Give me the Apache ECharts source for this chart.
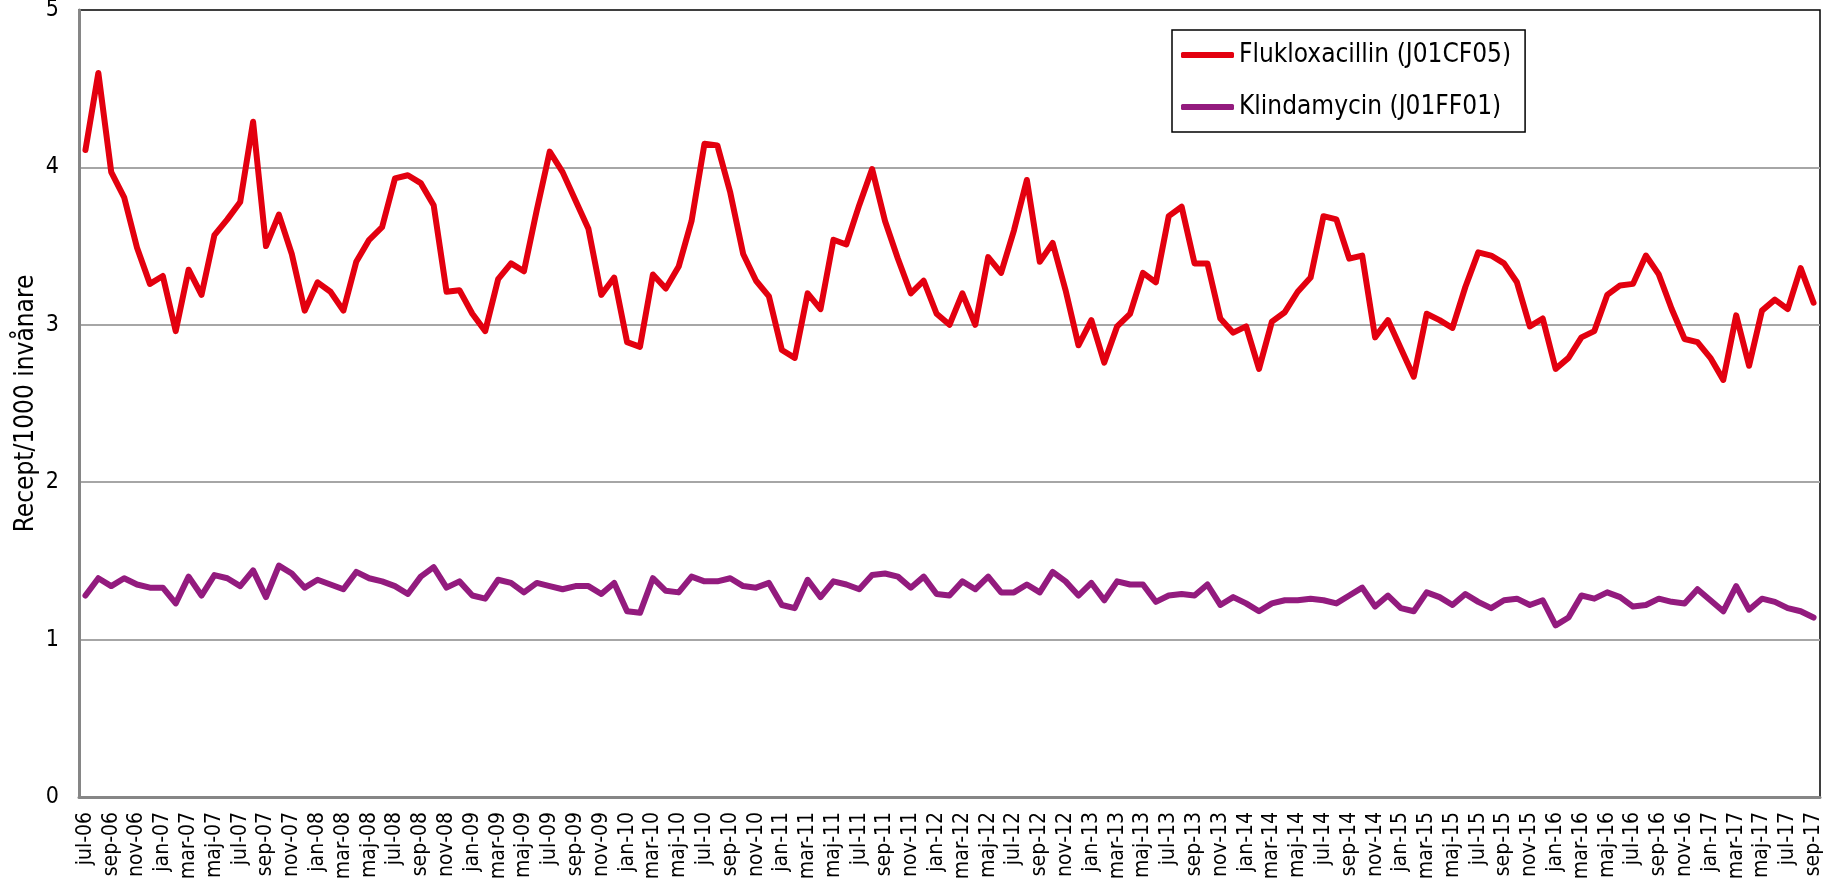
<!DOCTYPE html>
<html>
<head>
<meta charset="utf-8">
<script src="https://cdn.jsdelivr.net/npm/echarts@6/dist/echarts.min.js"></script>
<style>
  html, body { margin: 0; padding: 0; background: #fff; }
  #main { width: 1837px; height: 878px; }
</style>
</head>
<body>
<div id="main"></div>
<script>
const FONT = '"DejaVu Sans Condensed", "DejaVu Sans", sans-serif';

// months jul-06 .. sep-17 (Swedish short names)
const monthNames = ['jan', 'feb', 'mar', 'apr', 'maj', 'jun', 'jul', 'aug', 'sep', 'okt', 'nov', 'dec'];
const firstYear = 2006;
const firstMonth = 6; // jul
const monthCount = 135;

// Recept/1000 invånare per month
const flukloxacillin = [
  4.11, 4.60, 3.97, 3.81, 3.49, 3.26, 3.31, 2.96, 3.35, 3.19, 3.57, 3.67, 3.78, 4.29, 3.50, 3.70, 3.45, 3.09, 3.27, 3.21,
  3.09, 3.40, 3.54, 3.62, 3.93, 3.95, 3.90, 3.76, 3.21, 3.22, 3.07, 2.96, 3.29, 3.39, 3.34, 3.73, 4.10, 3.97, 3.79, 3.61,
  3.19, 3.30, 2.89, 2.86, 3.32, 3.23, 3.37, 3.66, 4.15, 4.14, 3.84, 3.45, 3.28, 3.18, 2.84, 2.79, 3.20, 3.10, 3.54, 3.51,
  3.76, 3.99, 3.66, 3.42, 3.20, 3.28, 3.07, 3.00, 3.20, 3.00, 3.43, 3.33, 3.60, 3.92, 3.40, 3.52, 3.22, 2.87, 3.03, 2.76,
  2.99, 3.07, 3.33, 3.27, 3.69, 3.75, 3.39, 3.39, 3.04, 2.95, 2.99, 2.72, 3.02, 3.08, 3.21, 3.30, 3.69, 3.67, 3.42, 3.44,
  2.92, 3.03, 2.85, 2.67, 3.07, 3.03, 2.98, 3.24, 3.46, 3.44, 3.39, 3.27, 2.99, 3.04, 2.72, 2.79, 2.92, 2.96, 3.19, 3.25,
  3.26, 3.44, 3.32, 3.10, 2.91, 2.89, 2.79, 2.65, 3.06, 2.74, 3.09, 3.16, 3.10, 3.36, 3.14
];

const klindamycin = [
  1.28, 1.39, 1.34, 1.39, 1.35, 1.33, 1.33, 1.23, 1.40, 1.28, 1.41, 1.39, 1.34, 1.44, 1.27, 1.47, 1.42, 1.33, 1.38, 1.35,
  1.32, 1.43, 1.39, 1.37, 1.34, 1.29, 1.40, 1.46, 1.33, 1.37, 1.28, 1.26, 1.38, 1.36, 1.30, 1.36, 1.34, 1.32, 1.34, 1.34,
  1.29, 1.36, 1.18, 1.17, 1.39, 1.31, 1.30, 1.40, 1.37, 1.37, 1.39, 1.34, 1.33, 1.36, 1.22, 1.20, 1.38, 1.27, 1.37, 1.35,
  1.32, 1.41, 1.42, 1.40, 1.33, 1.40, 1.29, 1.28, 1.37, 1.32, 1.40, 1.30, 1.30, 1.35, 1.30, 1.43, 1.37, 1.28, 1.36, 1.25,
  1.37, 1.35, 1.35, 1.24, 1.28, 1.29, 1.28, 1.35, 1.22, 1.27, 1.23, 1.18, 1.23, 1.25, 1.25, 1.26, 1.25, 1.23, 1.28, 1.33,
  1.21, 1.28, 1.20, 1.18, 1.30, 1.27, 1.22, 1.29, 1.24, 1.20, 1.25, 1.26, 1.22, 1.25, 1.09, 1.14, 1.28, 1.26, 1.30, 1.27,
  1.21, 1.22, 1.26, 1.24, 1.23, 1.32, 1.25, 1.18, 1.34, 1.19, 1.26, 1.24, 1.20, 1.18, 1.14
];

const seriesNames = ['Flukloxacillin (J01CF05)', 'Klindamycin (J01FF01)'];
const seriesColors = ['#E3000F', '#931B7E'];

// category labels like "jul-06"
const months = [];
for (let i = 0; i < monthCount; i++) {
  const m = (firstMonth + i) % 12;
  const y = firstYear + Math.floor((firstMonth + i) / 12);
  months.push(monthNames[m] + '-' + String(y % 100).padStart(2, '0'));
}

const myChart = echarts.init(document.getElementById('main'));

const option = {
  animation: false,
  textStyle: { fontFamily: FONT, color: '#000' },
  grid: {
    left: 79,
    top: 10,
    right: 17,
    bottom: 81,
    outerBoundsMode: 'none',
    show: true,
    borderColor: '#000',
    borderWidth: 1.5,
  },
  legend: {
    orient: 'vertical',
    left: 1172,
    top: 30,
    padding: [10, 14, 10, 9],
    borderColor: '#000',
    borderWidth: 1.5,
    itemWidth: 53,
    itemHeight: 6,
    itemGap: 22,
    icon: 'roundRect',
    textStyle: { fontFamily: FONT, fontSize: 26, lineHeight: 30, color: '#000' },
    data: seriesNames,
  },
  xAxis: {
    type: 'category',
    data: months,
    boundaryGap: true,
    axisLine: { lineStyle: { color: '#868686', width: 3 } },
    axisTick: { show: false },
    axisLabel: {
      interval: 1,
      rotate: 90,
      margin: 15,
      fontSize: 21,
      fontFamily: FONT,
      color: '#000',
    },
    splitLine: { show: false },
  },
  yAxis: {
    type: 'value',
    min: 0,
    max: 5,
    interval: 1,
    name: 'Recept/1000 invånare',
    nameLocation: 'middle',
    nameGap: 40,
    nameMoveOverlap: false,
    nameTextStyle: { fontSize: 26, fontFamily: FONT, color: '#000' },
    axisLine: { show: true, lineStyle: { color: '#868686', width: 3 } },
    axisTick: { show: false },
    axisLabel: { margin: 20, fontSize: 23, fontFamily: FONT, color: '#000' },
    splitLine: {
      show: true,
      showMaxLine: false,
      lineStyle: { color: '#a6a6a6', width: 2 },
    },
  },
  series: [
    {
      name: seriesNames[0],
      type: 'line',
      data: flukloxacillin,
      symbol: 'none',
      color: seriesColors[0],
      lineStyle: { width: 6, cap: 'round', join: 'round' },
    },
    {
      name: seriesNames[1],
      type: 'line',
      data: klindamycin,
      symbol: 'none',
      color: seriesColors[1],
      lineStyle: { width: 6, cap: 'round', join: 'round' },
    },
  ],
};

myChart.setOption(option);
</script>
</body>
</html>
